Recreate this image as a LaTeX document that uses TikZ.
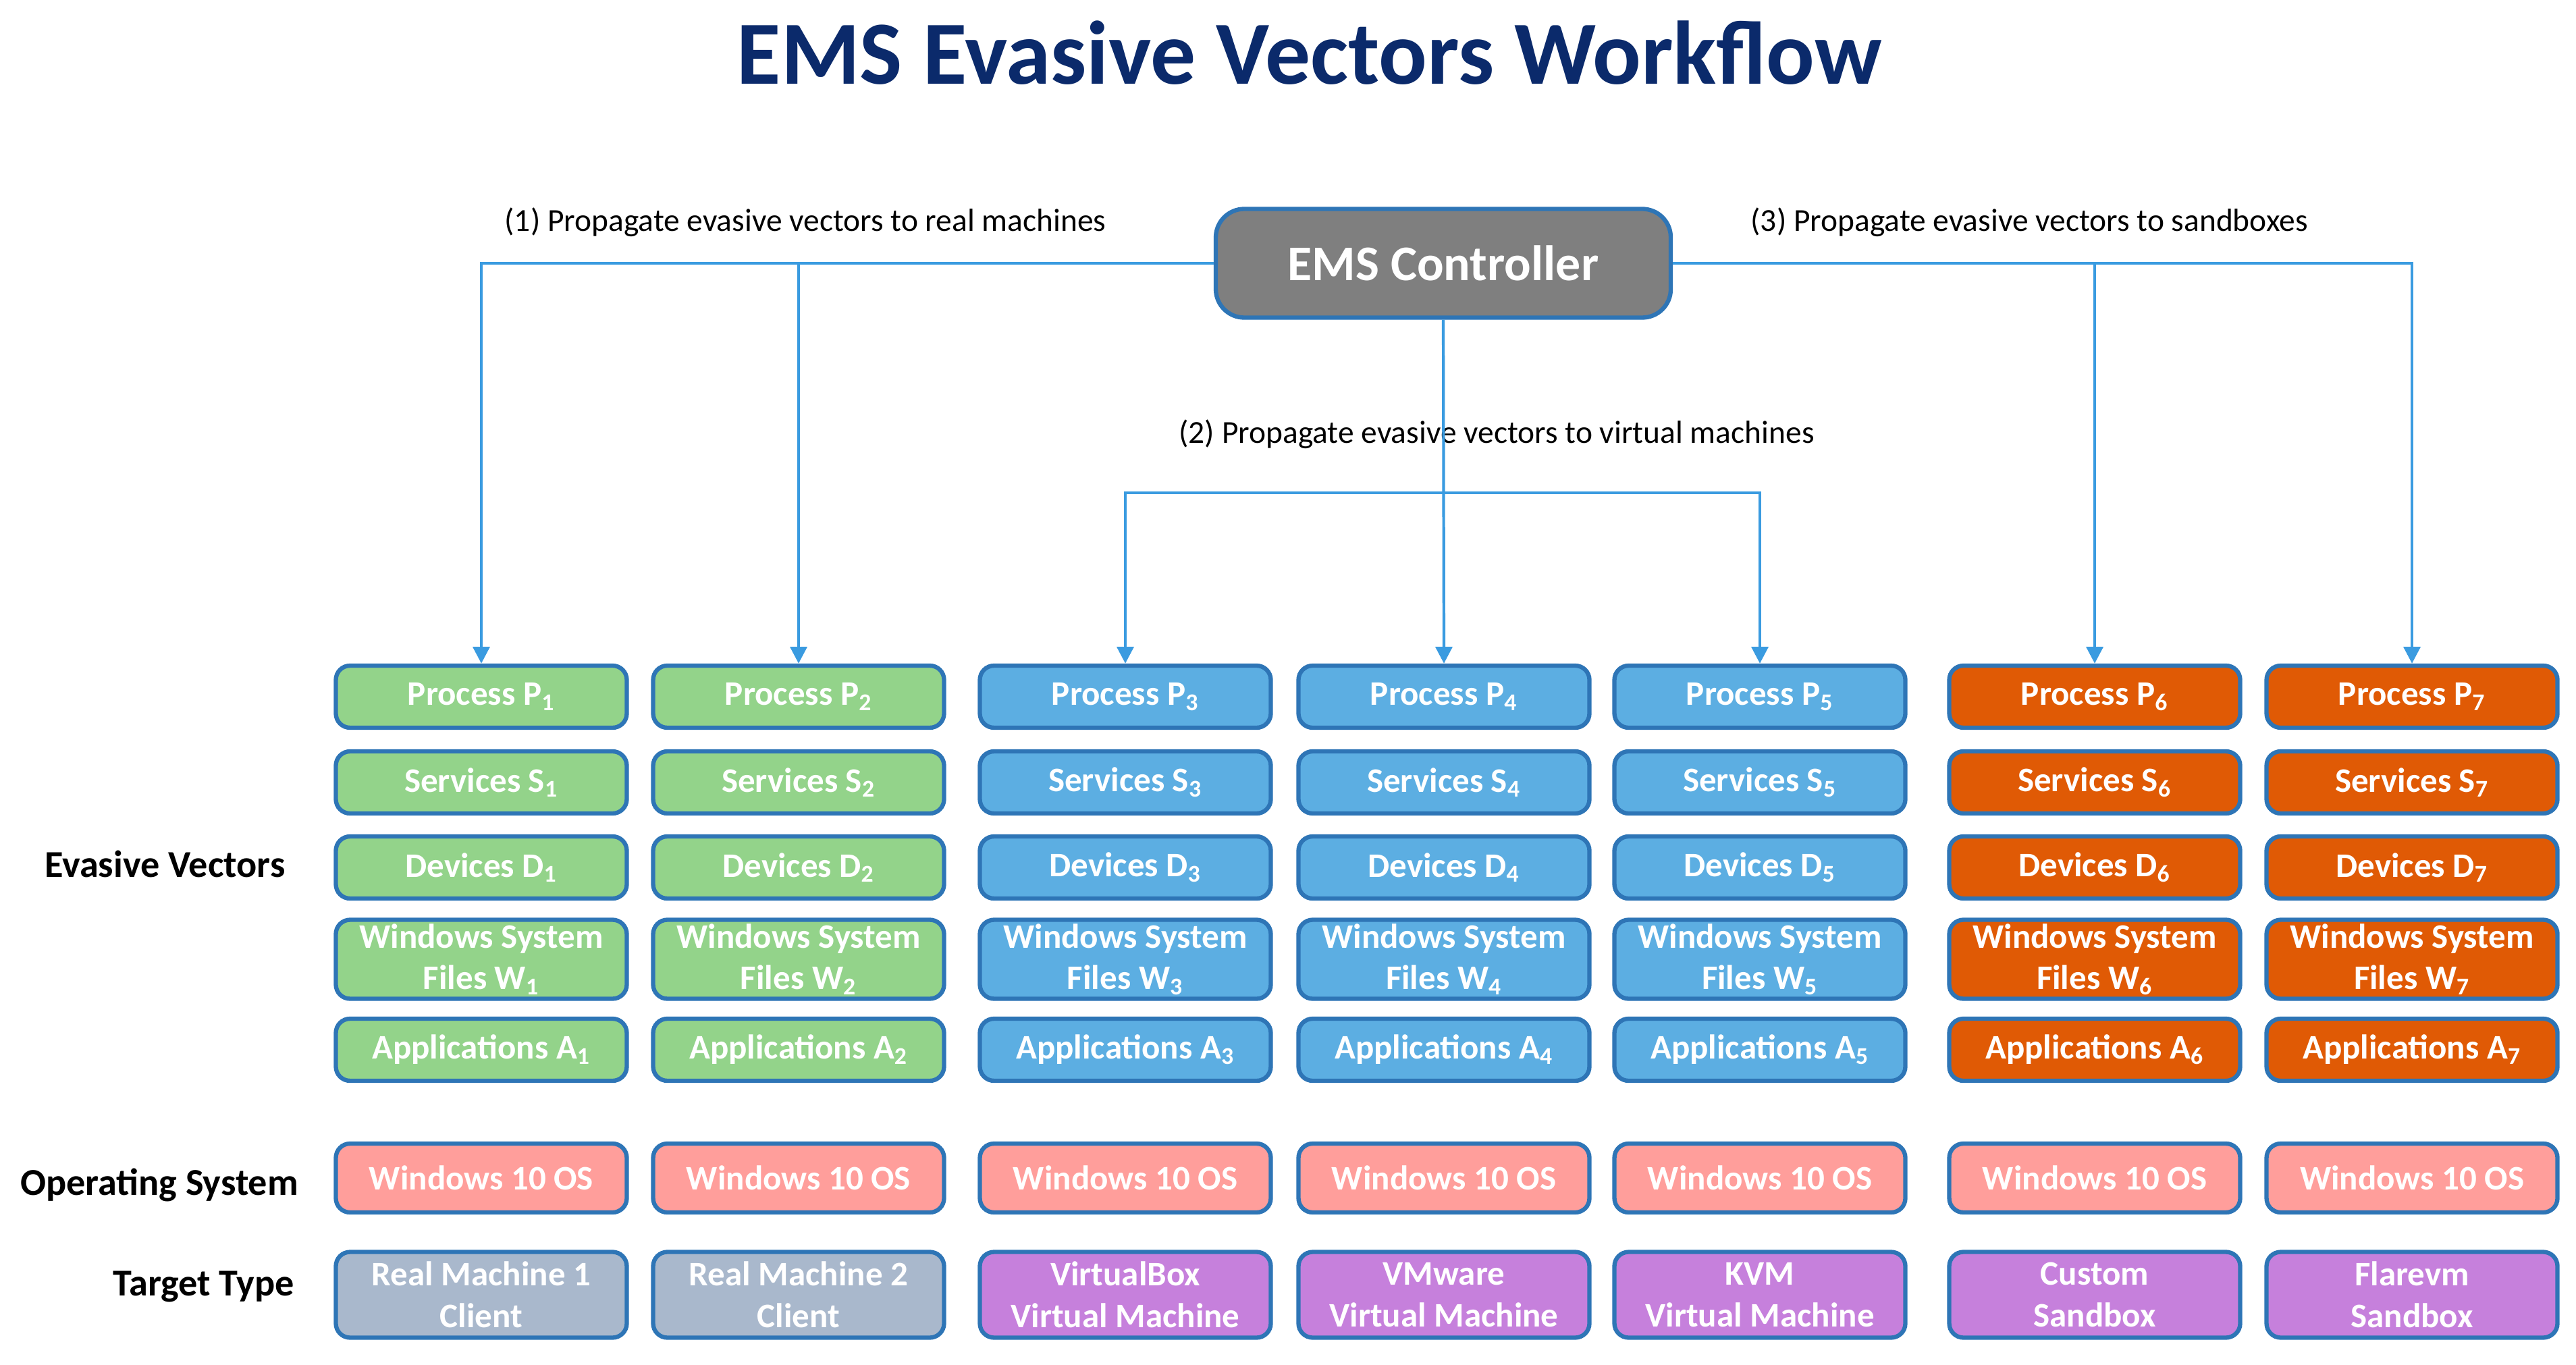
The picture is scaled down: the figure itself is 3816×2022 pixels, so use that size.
\documentclass[tikz,border=0pt]{standalone}
\usepackage{fontspec}
\setmainfont{Carlito}
\usetikzlibrary{arrows.meta}
\definecolor{gr}{HTML}{93D38A}
\definecolor{bl}{HTML}{5CAEE2}
\definecolor{orc}{HTML}{E05A05}
\definecolor{pk}{HTML}{FF9E9B}
\definecolor{gb}{HTML}{A9B8CC}
\definecolor{pu}{HTML}{C680DC}
\definecolor{bd}{HTML}{2E75B6}
\definecolor{ln}{HTML}{3A9BE0}
\definecolor{navy}{HTML}{0B2A6B}
\definecolor{ctl}{HTML}{7F7F7F}
\newlength{\pxu}\setlength{\pxu}{0.01cm}
\tikzset{
 box/.style={draw=bd,line width=1.8pt,rounded corners=6pt,minimum width=431\pxu,text=white,font=\fontsize{14.5}{17.5}\selectfont\bfseries,align=center,inner sep=0pt},
 b1/.style={box,minimum height=92\pxu},
 b2/.style={box,minimum height=117\pxu},
 b3/.style={box,minimum height=102\pxu},
 b4/.style={box,minimum height=127\pxu},
 lab/.style={font=\fontsize{16}{18}\selectfont\bfseries},
 note/.style={font=\fontsize{13.5}{15}\selectfont},
 con/.style={draw=ln,line width=1.2pt},
 arr/.style={con,-{Triangle[width=7pt,length=7pt]}}
}
\newcommand{\sbx}[1]{\textsubscript{#1}}
\begin{document}
\begin{tikzpicture}[x=0.01cm,y=-0.01cm]
\useasboundingbox (0,0) rectangle (3816,2022);
\node[font=\fontsize{38}{40}\selectfont\bfseries,text=navy] (title) at (1940,78) {EMS Evasive Vectors Workflow};
\node[draw=bd,line width=1.8pt,rounded corners=12pt,fill=ctl,minimum width=674\pxu,minimum height=161\pxu,text=white,font=\fontsize{21}{23}\selectfont\bfseries] (ems) at (2138,390) {EMS Controller};
\node[note] (n1) at (1193,329) {(1) Propagate evasive vectors to real machines};
\node[note] (n3) at (3006,329) {(3) Propagate evasive vectors to sandboxes};
\node[note] (n2) at (2217,643) {(2) Propagate evasive vectors to virtual machines};
\node[lab,anchor=east] (ev) at (435,1280) {Evasive Vectors};
\node[lab] (os) at (236,1755) {Operating System};
\node[lab] (tt) at (302,1906) {Target Type};
\foreach \i/\x/\c in {1/713/gr,2/1183/gr,3/1667/bl,4/2139/bl,5/2607/bl,6/3103/orc,7/3573/orc}{
 \node[b1,fill=\c] (p\i) at (\x,1032) {Process P\sbx{\i}};
 \node[b1,fill=\c] (s\i) at (\x,1159) {Services S\sbx{\i}};
 \node[b1,fill=\c] (d\i) at (\x,1285) {Devices D\sbx{\i}};
 \node[b2,fill=\c] (w\i) at (\x,1421) {Windows System\\Files W\sbx{\i}};
 \node[b1,fill=\c] (a\i) at (\x,1555) {Applications A\sbx{\i}};
 \node[b3,fill=pk] (o\i) at (\x,1745) {Windows 10 OS};
}
\node[b4,fill=gb] (t1) at (713,1918) {Real Machine 1\\Client};
\node[b4,fill=gb] (t2) at (1183,1918) {Real Machine 2\\Client};
\node[b4,fill=pu] (t3) at (1667,1918) {VirtualBox\\Virtual Machine};
\node[b4,fill=pu] (t4) at (2139,1918) {VMware\\Virtual Machine};
\node[b4,fill=pu] (t5) at (2607,1918) {KVM\\Virtual Machine};
\node[b4,fill=pu] (t6) at (3103,1918) {Custom\\Sandbox};
\node[b4,fill=pu] (t7) at (3573,1918) {Flarevm\\Sandbox};
\draw[arr] (ems.west) -| (p1.north);
\draw[arr] (ems.west) -| (p2.north);
\draw[arr] (ems.east) -| (p6.north);
\draw[arr] (ems.east) -| (p7.north);
\draw[arr] (ems.south) -- (p4.north);
\coordinate (j) at (2139,730);
\draw[arr] (j) -| (p3.north);
\draw[arr] (j) -| (p5.north);
\end{tikzpicture}
\end{document}
